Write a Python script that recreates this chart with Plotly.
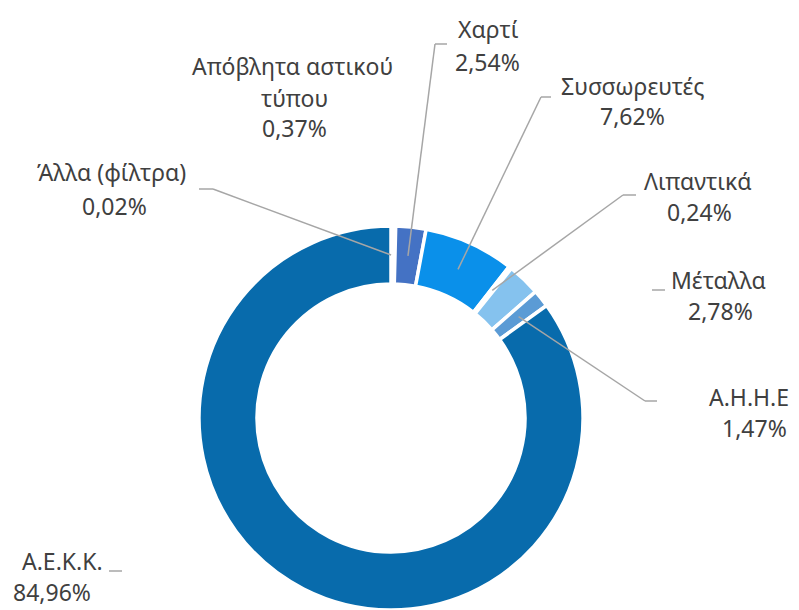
import math
import plotly.graph_objects as go

# ---- data (clockwise from 12 o'clock) ----
categories = ["Άλλα (φίλτρα)", "Απόβλητα αστικού τύπου", "Χαρτί", "Συσσωρευτές",
              "Λιπαντικά", "Μέταλλα", "Α.Η.Η.Ε", "Α.Ε.Κ.Κ."]
values = [0.02, 0.37, 2.54, 7.62, 0.24, 2.78, 1.47, 84.96]
value_labels = ["0,02%", "0,37%", "2,54%", "7,62%", "0,24%", "2,78%", "1,47%", "84,96%"]
colors = ["#FFFFFF", "#FFFFFF", "#4472C4", "#0A90EA", "#FFFFFF", "#85C2EE", "#5B9BD5", "#086BAC"]

# ---- layout constants (pixels, in window coordinates) ----
WIN_W, WIN_H = 799, 610
OFF = 8  # default page body margin
W, H = WIN_W - OFF, WIN_H - OFF
CX, CY, R = 391, 418, 192
RING = 58
TXT = "#404040"
LINE = "#A6A6A6"
FONT = "Noto Sans"
FS = 23


def xp(px):
    return (px - OFF) / W


def yp(py):
    return 1 - (py - OFF) / H


fig = go.Figure(go.Pie(
    labels=categories, values=values, sort=False, direction="clockwise", rotation=0,
    hole=(R - RING) / R, textinfo="none", hoverinfo="label+percent",
    marker=dict(colors=colors, line=dict(color="white", width=3.5)),
    domain=dict(x=[xp(CX - R), xp(CX + R)], y=[0, yp(CY - R)]),
    showlegend=False,
))

# label text positions: (category index, [(line text, x, y center, x anchor), ...])
label_layout = {
    0: [(categories[0], 111, 172, "center"), (value_labels[0], 114, 206, "center")],
    1: [("Απόβλητα αστικού", 292, 66, "center"), ("τύπου", 294, 98, "center"),
        (value_labels[1], 294, 128, "center")],
    2: [(categories[2], 488, 29, "center"), (value_labels[2], 487, 62, "center")],
    3: [(categories[3], 632, 86, "center"), (value_labels[3], 632, 116, "center")],
    4: [(categories[4], 698, 181, "center"), (value_labels[4], 699, 212, "center")],
    5: [(categories[5], 718, 280, "center"), (value_labels[5], 720, 311, "center")],
    6: [(categories[6], 791, 397, "right"), (value_labels[6], 754, 428, "center")],
    7: [(categories[7], 62, 561, "center"), (value_labels[7], 52, 592, "center")],
}

annotations = []
for idx, lines in label_layout.items():
    for text, x, y, anc in lines:
        annotations.append(dict(x=xp(x), y=yp(y), xref="paper", yref="paper",
                                text=text, showarrow=False, xanchor=anc, yanchor="middle",
                                font=dict(family=FONT, size=FS, color=TXT)))

# leader elbows: (category index, elbow start, elbow end, connect to slice?)
leaders = {
    0: ((213, 189), (199, 189), True),
    2: ((435, 44), (447, 44), True),
    3: ((541, 97), (551, 97), True),
    4: ((623, 195), (636, 195), True),
    5: ((652, 290), (665, 290), False),
    6: ((645, 401), (657, 401), True),
    7: ((109, 571), (122, 571), False),
}

total = sum(values)
cum = 0
mids = []
for v in values:
    mids.append((cum + v / 2) / total * 360)
    cum += v

shapes = []
rmid = R - RING / 2
for idx, (e0, e1, connect) in leaders.items():
    if connect:
        a = math.radians(mids[idx])
        ax, ay = CX + rmid * math.sin(a), CY - rmid * math.cos(a)
        shapes.append(dict(type="line", xref="paper", yref="paper",
                           x0=xp(ax), y0=yp(ay), x1=xp(e0[0]), y1=yp(e0[1]),
                           line=dict(color=LINE, width=1.5)))
    shapes.append(dict(type="line", xref="paper", yref="paper",
                       x0=xp(e0[0]), y0=yp(e0[1]), x1=xp(e1[0]), y1=yp(e1[1]),
                       line=dict(color=LINE, width=1.5)))

fig.update_layout(width=W, height=H, margin=dict(l=0, r=0, t=0, b=0),
                  paper_bgcolor="white", plot_bgcolor="white",
                  annotations=annotations, shapes=shapes)
fig.write_html("out.html")
